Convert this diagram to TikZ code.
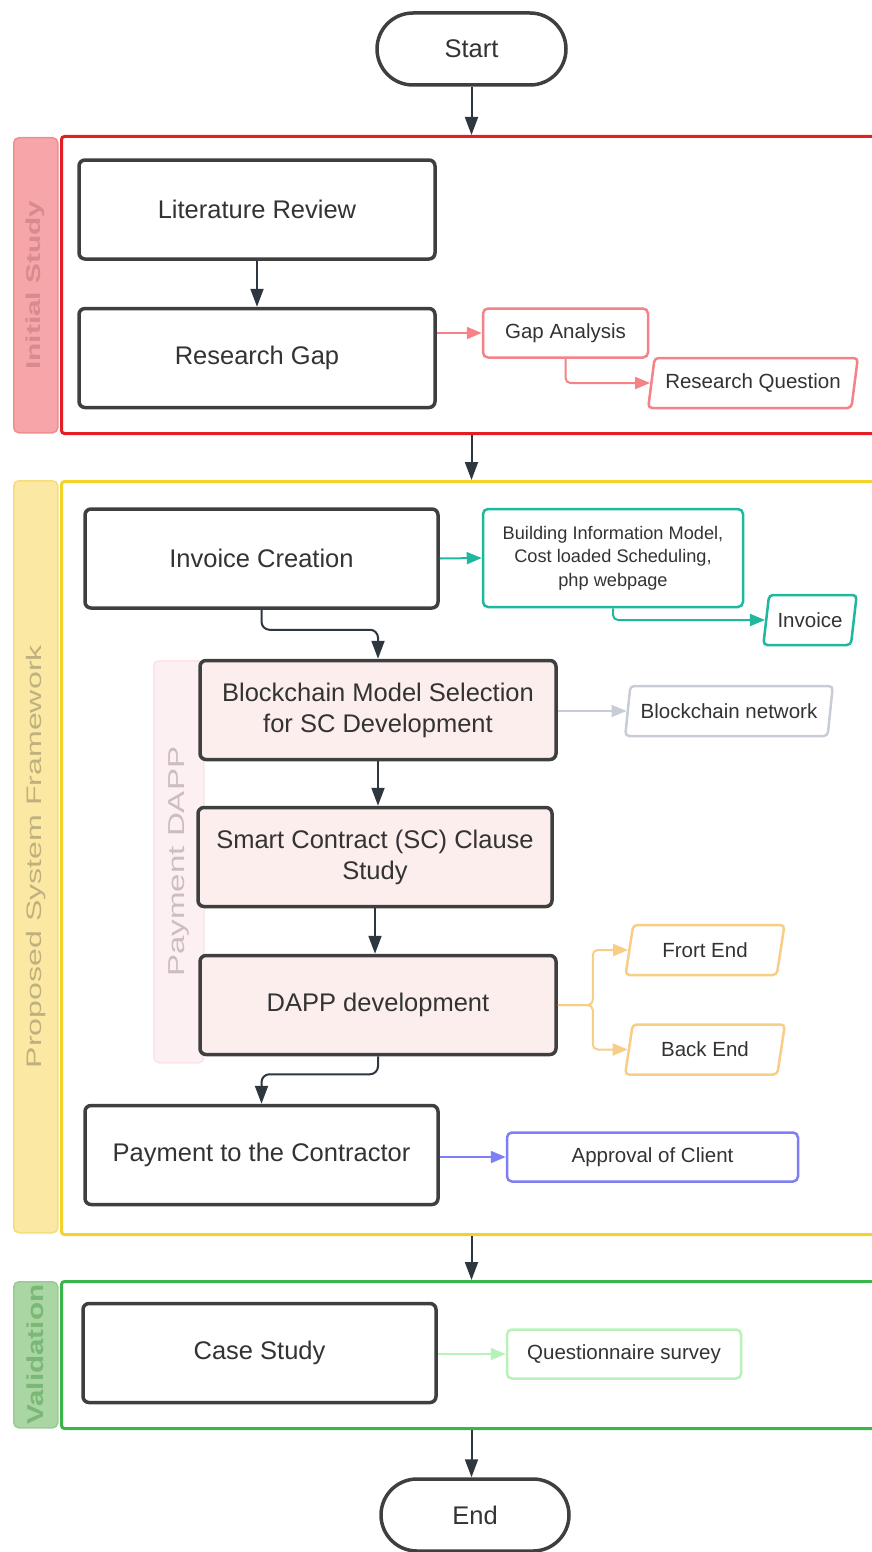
\documentclass[tikz,border=0pt]{standalone}
\usepackage{fontspec}
\setmainfont{Liberation Sans}
\usetikzlibrary{arrows.meta,shapes.geometric}

\definecolor{boxgrey}{HTML}{3F3F3F}
\definecolor{arrowdark}{HTML}{2E3640}
\definecolor{txt}{HTML}{333333}
\definecolor{redframe}{HTML}{E41E25}
\definecolor{redtabfill}{HTML}{F6A5A8}
\definecolor{redtabline}{HTML}{F08D91}
\definecolor{redtabtext}{HTML}{D98A8F}
\definecolor{pinkline}{HTML}{F48286}
\definecolor{yelframe}{HTML}{F5D22A}
\definecolor{yeltabfill}{HTML}{FBE8A2}
\definecolor{yeltabline}{HTML}{F7DC7C}
\definecolor{yeltabtext}{HTML}{BFB17F}
\definecolor{tealline}{HTML}{1DB89E}
\definecolor{greyline}{HTML}{C8CDD5}
\definecolor{orangeline}{HTML}{F8CD86}
\definecolor{blueline}{HTML}{7F7FF5}
\definecolor{grnframe}{HTML}{3AB54A}
\definecolor{grntabfill}{HTML}{A9D6A3}
\definecolor{grntabline}{HTML}{9ACC93}
\definecolor{grntabtext}{HTML}{7BB776}
\definecolor{lightgrn}{HTML}{B9F2B9}
\definecolor{pinkfill}{HTML}{FDEEEE}
\definecolor{dapptabfill}{HTML}{FDF0F3}
\definecolor{dapptabline}{HTML}{FBE3E8}
\definecolor{dapptabtext}{HTML}{CBBDC0}

\tikzset{
  bigtext/.style={font=\fontsize{25.5}{31}\selectfont, text=txt, align=center},
  smalltext/.style={font=\fontsize{20.5}{23.5}\selectfont, text=txt, align=center},
  mainbox/.style={bigtext, draw=boxgrey, line width=3.5pt, rounded corners=6pt,
    fill=white, minimum width=356pt, minimum height=99pt, inner sep=0pt},
  dappbox/.style={mainbox, fill=pinkfill},
  terminal/.style={bigtext, draw=boxgrey, line width=3.5pt, rounded corners=36pt,
    fill=white, minimum height=72pt, inner sep=0pt},
  smallbox/.style={smalltext, draw=#1, line width=2.5pt, rounded corners=5pt,
    fill=white, minimum height=49pt, inner sep=0pt},
  parabox/.style={smalltext, draw=#1, line width=2.5pt, rounded corners=4pt,
    fill=white, shape=trapezium, trapezium left angle=73, trapezium right angle=107,
    trapezium stretches=true, minimum height=50pt, inner sep=0pt},
  frame/.style={draw=#1, line width=3pt, rounded corners=3pt, anchor=north west,
    minimum width=822pt, inner sep=0pt},
  tab/.style={draw=#1, line width=1.5pt, rounded corners=5pt, anchor=north west,
    inner sep=0pt},
  flow/.style={draw=arrowdark, line width=2pt, rounded corners=8pt,
    -{Triangle[length=18pt,width=13pt]}},
  side/.style={draw=#1, line width=2pt, rounded corners=5pt,
    -{Triangle[length=15pt,width=12pt]}},
}

\begin{document}
\begin{tikzpicture}[x=1pt,y=-1pt]
\useasboundingbox (0,0) rectangle (872,1552);

% swimlane frames and their side tabs
\node[frame=redframe, minimum height=297pt] (fr1) at (60,135) {};
\node[tab=redtabline, fill=redtabfill, minimum width=44pt, minimum height=295pt] (tab1) at (13,137) {};
\node[rotate=90, text=redtabtext, font=\fontsize{20}{24}\selectfont\bfseries] at (tab1.center) {\scalebox{1.49}[1]{Initial Study}};

\node[frame=yelframe, minimum height=753pt] (fr2) at (60,480) {};
\node[tab=yeltabline, fill=yeltabfill, minimum width=44pt, minimum height=752pt] (tab2) at (13,480) {};
\node[rotate=90, text=yeltabtext, font=\fontsize{21}{24}\selectfont] at (tab2.center) {\scalebox{1.53}[1]{Proposed System Framework}};

\node[frame=grnframe, minimum height=147pt] (fr3) at (60,1280) {};
\node[tab=grntabline, fill=grntabfill, minimum width=44pt, minimum height=146pt] (tab3) at (13,1281) {};
\node[rotate=90, text=grntabtext, font=\fontsize{23}{26}\selectfont\bfseries] at (tab3.center) {\scalebox{1.29}[1]{Validation}};

% inner lane of the payment DAPP
\node[tab=dapptabline, fill=dapptabfill, minimum width=50pt, minimum height=402pt] (tab4) at (153,660) {};
\node[rotate=90, text=dapptabtext, font=\fontsize{23}{26}\selectfont] at (tab4.center) {\scalebox{1.44}[1]{Payment DAPP}};

% terminals
\node[terminal, minimum width=189pt] (start) at (471.5,49) {Start};
\node[terminal, minimum width=188pt] (end) at (475,1515) {End};

% initial study
\node[mainbox] (lit) at (257,209.5) {Literature Review};
\node[mainbox] (gap) at (257,358) {Research Gap};
\node[smallbox=pinkline, minimum width=165pt] (ga) at (565.5,333) {Gap Analysis};
\node[parabox=pinkline, minimum width=210pt] (rq) at (753,383) {Research Question};

% proposed system framework
\node[mainbox, minimum width=353pt] (inv) at (261.5,558.5) {Invoice Creation};
\node[smallbox=tealline, minimum width=260pt, minimum height=98pt,
  font=\fontsize{18.2}{23.5}\selectfont] (bim) at (613,558)
  {Building Information Model,\\Cost loaded Scheduling,\\php webpage};
\node[parabox=tealline, minimum width=94pt] (invoice) at (810,620) {Invoice};

\node[dappbox] (bc) at (378,710) {Blockchain Model Selection\\for SC Development};
\node[parabox=greyline, minimum width=208pt] (bcn) at (729,711) {Blockchain network};
\node[dappbox, minimum width=354pt] (sc) at (375,857) {Smart Contract (SC) Clause\\Study};
\node[dappbox] (dapp) at (378,1005) {DAPP development};
\node[parabox=orangeline, minimum width=160pt] (fe) at (705,950) {Frort End};
\node[parabox=orangeline, minimum width=160pt] (be) at (705,1049.5) {Back End};

\node[mainbox, minimum width=353pt] (pay) at (261.5,1155) {Payment to the Contractor};
\node[smallbox=blueline, minimum width=291pt] (appr) at (652.5,1157) {Approval of Client};

% validation
\node[mainbox, minimum width=353pt] (cs) at (259.5,1353) {Case Study};
\node[smallbox=lightgrn, minimum width=234pt] (qs) at (624,1354) {Questionnaire survey};

% main flow
\draw[flow] (start.south) -- (start.south |- fr1.north);
\draw[flow] (lit) -- (gap);
\draw[flow] (fr1.south -| start) -- (fr2.north -| start);
\draw[flow] (inv.south) -- ++(0,20) -| (bc.north);
\draw[flow] (bc.south) -- (bc.south |- sc.north);
\draw[flow] (sc.south) -- (sc.south |- dapp.north);
\draw[flow] (dapp.south) -- ++(0,18) -| (pay.north);
\draw[flow] (fr2.south -| start) -- (fr3.north -| start);
\draw[flow] (fr3.south -| start) -- (end.north -| start);

% side outputs
\draw[side=pinkline] (ga.west -| gap.east) -- (ga.west);
\draw[side=pinkline] (ga.south) |- (rq.west);
\draw[side=tealline] (inv.east) -- (bim.west);
\draw[side=tealline] (bim.south) |- (invoice.west);
\draw[side=greyline] (bcn.west -| bc.east) -- (bcn.west);
\draw[side=orangeline] (dapp.east) -- ++(35,0) |- (fe.west);
\draw[side=orangeline] (dapp.east) -- ++(35,0) |- (be.west);
\draw[side=blueline] (appr.west -| pay.east) -- (appr.west);
\draw[side=lightgrn] (qs.west -| cs.east) -- (qs.west);
\end{tikzpicture}
\end{document}
